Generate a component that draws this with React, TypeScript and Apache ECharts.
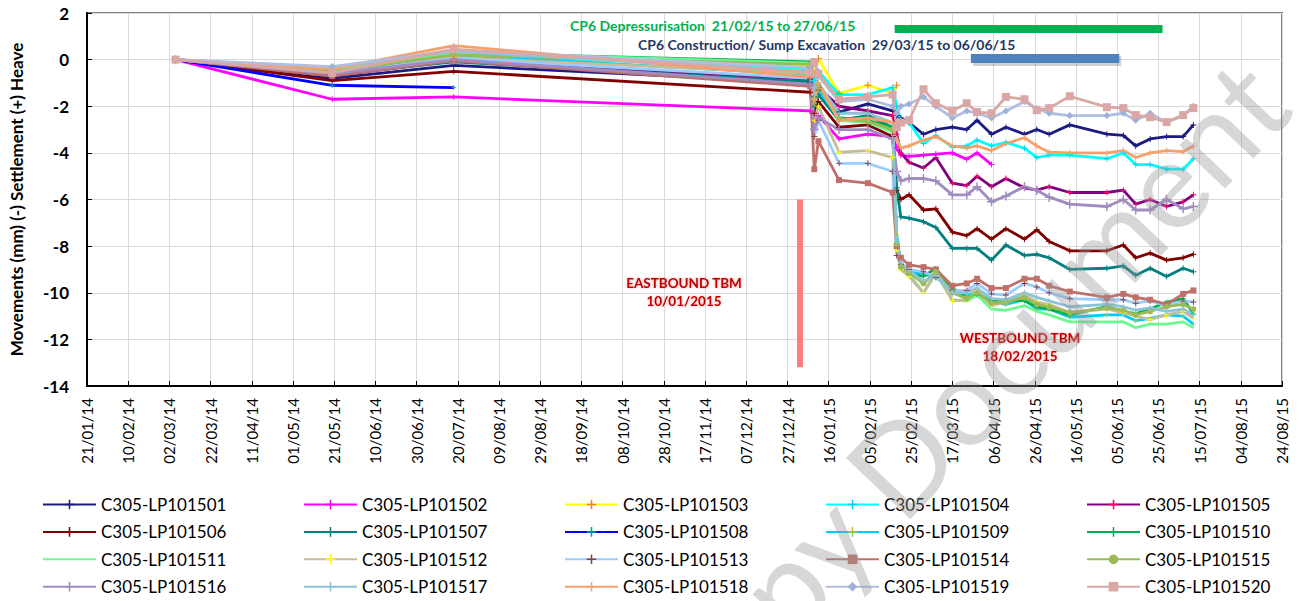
import React, { useEffect, useRef } from "react";
import * as echarts from "echarts";

// ---------- DATA ----------
const DATES = [
  "2014-03-05", "2014-05-20", "2014-07-18", "2015-01-07", "2015-01-09", "2015-01-11",
  "2015-01-21", "2015-02-04", "2015-02-16", "2015-02-18", "2015-02-20", "2015-02-24",
  "2015-03-03", "2015-03-09", "2015-03-17", "2015-03-24", "2015-03-29", "2015-04-05",
  "2015-04-12", "2015-04-21", "2015-04-27", "2015-05-03", "2015-05-13", "2015-05-31",
  "2015-06-08", "2015-06-14", "2015-06-21", "2015-06-29", "2015-07-07", "2015-07-12",
];

const LP101501 = [0, -0.8, -0.25, -1.0, -1.6, -1.3, -2.25, -1.9, -2.2, -2.4, -2.5, -2.7, -3.2, -3.0, -2.9, -3.0, -2.6, -3.2, -2.9, -3.2, -3.0, -3.2, -2.8, -3.2, -3.25, -3.7, -3.4, -3.3, -3.3, -2.8];
const LP101502 = [0, -1.7, -1.6, -2.2, -2.6, -2.4, -3.4, -3.2, -3.3, -3.8, -4.1, -4.15, -4.1, -4.05, -4.0, -4.27, -4.0, -4.5, null, null, null, null, null, null, null, null, null, null, null, null];
const LP101503 = [0, -0.7, 0.15, -0.3, -0.6, 0.05, -1.45, -1.1, -1.45, -1.1, null, null, null, null, null, null, null, null, null, null, null, null, null, null, null, null, null, null, null, null];
const LP101504 = [0, -0.5, 0.25, -0.4, -0.9, -0.5, -1.5, -1.5, -1.2, -2.0, -2.6, -2.7, -3.6, -3.25, -3.75, -3.7, -3.45, -3.7, -3.55, -3.8, -4.2, -4.1, -4.1, -4.25, -4.0, -4.5, -4.5, -4.7, -4.7, -4.25];
const LP101505 = [0, -0.7, -0.05, -0.85, -1.8, -1.2, -2.0, -2.2, -2.4, -3.2, -4.0, -4.4, -4.65, -4.2, -5.3, -5.4, -5.0, -5.45, -5.1, -5.5, -5.6, -5.45, -5.7, -5.7, -5.6, -6.2, -6.0, -6.3, -6.1, -5.8];
const LP101506 = [0, -0.9, -0.5, -1.4, -2.3, -1.8, -2.9, -2.8, -3.3, -5.6, -6.0, -5.8, -6.45, -6.4, -7.4, -7.55, -7.25, -7.7, -7.25, -7.7, -7.3, -7.8, -8.2, -8.2, -7.95, -8.5, -8.3, -8.6, -8.5, -8.35];
const LP101507 = [0, -0.65, -0.1, -0.95, -2.0, -1.5, -2.6, -2.4, -2.9, -5.5, -6.75, -6.8, -6.95, -7.2, -8.1, -8.1, -8.1, -8.6, -7.95, -8.4, -8.35, -8.5, -9.0, -8.95, -8.85, -9.25, -8.95, -9.3, -8.95, -9.1];
const LP101508 = [0, -1.1, -1.2, null, null, null, null, null, null, null, null, null, null, null, null, null, null, null, null, null, null, null, null, null, null, null, null, null, null, null];
const LP101509 = [0, -0.55, 0.2, -0.65, -1.9, -1.3, -2.5, -2.6, -3.0, -7.5, -8.8, -9.1, -9.2, -9.35, -9.8, -10.15, -9.95, -10.4, -10.5, -10.3, -10.7, -10.7, -11.05, -10.95, -10.95, -11.2, -11.1, -10.95, -11.0, -11.35];
const LP101510 = [0, -0.45, 0.3, -0.1, -1.6, -1.0, -2.5, -2.6, -2.9, -7.8, -8.9, -9.2, -9.3, -8.95, -9.85, -10.2, -10.1, -10.35, -10.3, -10.35, -10.6, -10.7, -10.95, -10.6, -10.8, -10.9, -10.7, -10.4, -10.25, -10.9];
const LP101511 = [0, -0.45, 0.3, -0.15, -1.7, -1.1, -2.6, -2.7, -3.1, -8.0, -9.0, -9.2, -10.0, -9.2, -10.3, -10.35, -10.1, -10.7, -10.75, -10.55, -10.8, -10.95, -11.25, -11.25, -11.25, -11.5, -11.35, -11.35, -11.25, -11.5];
const LP101512 = [0, -0.65, 0.1, -0.6, -2.6, -2.0, -3.97, -3.9, -4.2, -8.2, -9.0, -9.3, -10.0, -9.1, -10.35, -10.3, -9.9, -10.55, -10.4, -10.1, -10.4, -10.5, -10.85, -10.7, -10.85, -11.0, -11.15, -10.95, -10.8, -11.1];
const LP101513 = [0, -0.6, 0.05, -0.8, -3.3, -2.6, -4.45, -4.45, -4.8, -8.4, -8.8, -9.0, -9.1, -9.35, -9.9, -9.9, -9.6, -10.05, -10.1, -9.6, -9.75, -10.0, -10.25, -10.3, -10.3, -10.45, -10.35, -10.55, -10.35, -10.4];
const LP101514 = [0, -0.7, -0.05, -1.15, -4.7, -3.5, -5.17, -5.3, -5.7, -8.0, -8.5, -8.8, -8.9, -9.0, -9.7, -9.6, -9.4, -9.8, -9.8, -9.4, -9.4, -9.7, -9.95, -10.2, -10.05, -10.2, -10.3, -10.5, -10.05, -9.9];
const LP101515 = [0, -0.5, 0.2, -0.2, -1.7, -1.1, -2.55, -2.65, -3.0, -7.9, -8.9, -9.15, -9.6, -9.1, -10.0, -10.25, -10.0, -10.45, -10.4, -10.2, -10.5, -10.6, -10.85, -10.65, -10.75, -10.95, -10.8, -10.6, -10.5, -10.7];
const LP101516 = [0, -0.6, 0.0, -1.05, -3.0, -2.5, -3.0, -3.0, -3.4, -4.8, -5.2, -5.1, -5.1, -5.2, -5.8, -5.8, -5.45, -6.1, -5.85, -5.45, -5.6, -5.9, -6.2, -6.3, -6.0, -6.45, -6.45, -6.0, -6.4, -6.3];
const LP101517 = [0, -0.35, 0.35, -0.5, -1.5, -1.0, -2.3, -2.3, -2.7, -7.8, -8.7, -9.05, -9.5, -9.25, -10.0, -10.0, -9.8, -10.25, -10.3, -10.0, -10.2, -10.35, -10.6, -10.5, -10.6, -10.75, -10.65, -10.8, -10.7, -10.95];
const LP101518 = [0, -0.4, 0.6, -0.75, -1.7, -1.0, -2.6, -2.5, -2.7, -3.4, -3.8, -3.7, -3.45, -3.3, -3.7, -3.8, -3.7, -3.9, -3.6, -3.35, -3.7, -3.97, -4.0, -4.0, -3.9, -4.2, -4.0, -3.9, -3.95, -3.7];
const LP101519 = [0, -0.3, 0.4, -0.35, -1.2, -0.7, -1.8, -1.7, -2.0, -2.3, -2.0, -1.9, -1.6, -2.0, -2.5, -2.2, -2.3, -2.5, -2.2, -1.8, -2.1, -2.3, -2.4, -2.4, -2.3, -2.6, -2.3, -2.7, -2.4, -2.0];
const LP101520 = [0, -0.57, 0.45, -0.55, -0.1, -0.6, -1.7, -1.6, -1.5, -2.9, -2.7, -2.6, -1.27, -1.87, -2.2, -1.87, -2.25, -2.3, -1.6, -1.7, -2.17, -2.08, -1.57, -2.04, -2.08, -2.38, -2.47, -2.68, -2.38, -2.08];

const SERIES_NAMES = [
  "C305-LP101501", "C305-LP101502", "C305-LP101503", "C305-LP101504", "C305-LP101505",
  "C305-LP101506", "C305-LP101507", "C305-LP101508", "C305-LP101509", "C305-LP101510",
  "C305-LP101511", "C305-LP101512", "C305-LP101513", "C305-LP101514", "C305-LP101515",
  "C305-LP101516", "C305-LP101517", "C305-LP101518", "C305-LP101519", "C305-LP101520",
];
const SERIES_VALUES = [
  LP101501, LP101502, LP101503, LP101504, LP101505, LP101506, LP101507, LP101508, LP101509, LP101510,
  LP101511, LP101512, LP101513, LP101514, LP101515, LP101516, LP101517, LP101518, LP101519, LP101520,
];

// axis
const X_START = "2014-01-21";
const X_END = "2015-08-24";
const X_STEP_DAYS = 20;
const Y_MIN = -14;
const Y_MAX = 2;
const Y_STEP = 2;

// annotations (dates / values)
const DEPRESS_RANGE = ["2015-02-17", "2015-06-27"];
const DEPRESS_LEVEL = 1.34;
const SUMP_RANGE = ["2015-03-26", "2015-06-06"];
const SUMP_LEVEL = 0.05;
const EAST_TBM = { date: "2015-01-02", from: -6.0, to: -13.2 };
const WEST_TBM = { date: "2015-02-16", from: -8.85, to: -14.1 };

// ---------- STYLE ----------
const PLUS = "path://M0,4.2h10v1.6h-10z M4.2,0h1.6v10h-1.6z";
const STYLES: { line: string; marker: string; symbol: string; size: number }[] = [
  { line: "#1c1c80", marker: "#1c1c80", symbol: PLUS, size: 6 },
  { line: "#ff00ff", marker: "#ff00ff", symbol: PLUS, size: 6 },
  { line: "#ffff00", marker: "#f08020", symbol: PLUS, size: 7 },
  { line: "#00ffff", marker: "#00d8e8", symbol: PLUS, size: 6 },
  { line: "#800080", marker: "#ff0066", symbol: PLUS, size: 6 },
  { line: "#800000", marker: "#800000", symbol: PLUS, size: 6 },
  { line: "#008080", marker: "#008080", symbol: PLUS, size: 6 },
  { line: "#0000ff", marker: "#00a0a0", symbol: PLUS, size: 5 },
  { line: "#00ccff", marker: "#b0c040", symbol: PLUS, size: 5 },
  { line: "#00b050", marker: "#00b050", symbol: PLUS, size: 5 },
  { line: "#6cfa90", marker: "rgba(0,0,0,0)", symbol: "circle", size: 0 },
  { line: "#c4bd97", marker: "#ffff00", symbol: PLUS, size: 6 },
  { line: "#99ccff", marker: "#8b4040", symbol: PLUS, size: 6 },
  { line: "#c0706b", marker: "#c0706b", symbol: "rect", size: 6 },
  { line: "#9bbb59", marker: "#9bbb59", symbol: "circle", size: 6 },
  { line: "#a08cc0", marker: "#a08cc0", symbol: PLUS, size: 9 },
  { line: "#8cc3d9", marker: "#8cc3d9", symbol: PLUS, size: 6 },
  { line: "#f7a06c", marker: "#f7a06c", symbol: PLUS, size: 6 },
  { line: "#b0bedf", marker: "#a0b0d8", symbol: "diamond", size: 7 },
  { line: "#d9a8a6", marker: "#d9a8a6", symbol: "rect", size: 8 },
];

const FONT = "Lato, 'Open Sans', sans-serif";
const DAY = 86400000;

function ts(s: string) {
  const [y, m, d] = s.split("-").map(Number);
  return Date.UTC(y, m - 1, d);
}
const T0 = ts(X_START);
function dayOf(s: string) {
  return Math.round((ts(s) - T0) / DAY);
}
function fmt(v: number) {
  const d = new Date(T0 + v * DAY);
  const p = (n: number) => (n < 10 ? "0" + n : "" + n);
  return p(d.getUTCDate()) + "/" + p(d.getUTCMonth() + 1) + "/" + p(d.getUTCFullYear() % 100);
}

export default function App() {
  const ref = useRef<HTMLDivElement>(null);

  useEffect(() => {
    if (!ref.current) return;
    const chart = echarts.init(ref.current, undefined, { renderer: "svg" });

    const series: any[] = SERIES_NAMES.map((name, i) => {
      const st = STYLES[i];
      const vals = SERIES_VALUES[i];
      const data: [number, number][] = [];
      DATES.forEach((d, k) => {
        const v = vals[k];
        if (v !== null && v !== undefined) data.push([dayOf(d), v]);
      });
      return {
        name,
        type: "line",
        data,
        symbol: st.symbol,
        symbolSize: st.size,
        showSymbol: st.size > 0,
        lineStyle: { color: st.line, width: 2.8 },
        itemStyle: { color: st.marker },
        emphasis: { disabled: true },
        z: 3,
      };
    });

    const sumpShadowLevel = SUMP_LEVEL - 0.08;
    series.push({
      name: "annotations",
      type: "line",
      data: [],
      silent: true,
      z: 2,
      markLine: {
        silent: true,
        symbol: ["none", "none"],
        label: { show: false },
        emphasis: { disabled: true },
        data: [
          [
            { coord: [dayOf(DEPRESS_RANGE[0]), DEPRESS_LEVEL], lineStyle: { color: "#00b050", width: 8, type: "solid" } },
            { coord: [dayOf(DEPRESS_RANGE[1]), DEPRESS_LEVEL] },
          ],
          [
            { coord: [dayOf(SUMP_RANGE[0]) + 1, sumpShadowLevel], lineStyle: { color: "rgba(0,0,0,0.18)", width: 10, type: "solid" } },
            { coord: [dayOf(SUMP_RANGE[1]) + 1, sumpShadowLevel] },
          ],
          [
            { coord: [dayOf(SUMP_RANGE[0]), SUMP_LEVEL], lineStyle: { color: "#4f81bd", width: 9, type: "solid" } },
            { coord: [dayOf(SUMP_RANGE[1]), SUMP_LEVEL] },
          ],
          [
            { coord: [dayOf(EAST_TBM.date), EAST_TBM.from], lineStyle: { color: "#ff7f7f", width: 6, type: "solid" } },
            { coord: [dayOf(EAST_TBM.date), EAST_TBM.to] },
          ],
          [
            { coord: [dayOf(WEST_TBM.date), WEST_TBM.from], lineStyle: { color: "#ff7f7f", width: 6, type: "solid" } },
            { coord: [dayOf(WEST_TBM.date), WEST_TBM.to] },
          ],
        ],
      },
    });

    const legendCols = [0, 1, 2, 3, 4].map((c) => ({
      orient: "vertical",
      left: 42 + 261 * c,
      top: 496,
      height: 105,
      itemWidth: 53,
      itemHeight: 12,
      itemGap: 10.4,
      padding: 0,
      selectedMode: false,
      textStyle: { fontSize: 17, lineHeight: 17, color: "#000", fontFamily: FONT },
      data: [0, 1, 2, 3].map((r) => SERIES_NAMES[r * 5 + c]),
    }));

    const xMax = dayOf(X_END);

    chart.setOption({
      animation: false,
      backgroundColor: "#fff",
      grid: {
        left: 83,
        top: 13,
        width: 1199,
        height: 373,
        show: true,
        borderColor: "#808080",
        borderWidth: 2,
        containLabel: false,
      },
      legend: legendCols,
      xAxis: {
        type: "value",
        min: 0,
        max: xMax,
        interval: X_STEP_DAYS,
        axisLine: { show: true, onZero: false, lineStyle: { color: "#000", width: 2 } },
        axisTick: { show: true, inside: true, length: 5, lineStyle: { color: "#000" } },
        axisLabel: {
          rotate: 90,
          margin: 12,
          color: "#000",
          fontSize: 15,
          fontFamily: FONT,
          formatter: (v: number) => fmt(v),
        },
        splitLine: { show: true, lineStyle: { color: "#d9d9d9", width: 1 } },
      },
      yAxis: {
        type: "value",
        min: Y_MIN,
        max: Y_MAX,
        interval: Y_STEP,
        name: "Movements (mm) (-) Settlement (+) Heave",
        nameLocation: "middle",
        nameRotate: 90,
        nameGap: 62,
        nameTextStyle: { fontSize: 17, fontWeight: "bold", color: "#000", fontFamily: FONT },
        axisLine: { show: true, onZero: false, lineStyle: { color: "#000", width: 2 } },
        axisTick: { show: true, inside: true, length: 5, lineStyle: { color: "#000" } },
        axisLabel: { margin: 18, color: "#000", fontSize: 17, fontWeight: "bold", fontFamily: FONT },
        splitLine: { show: true, lineStyle: { color: "#d9d9d9", width: 1 } },
      },
      graphic: [
        {
          type: "text",
          x: 570,
          y: 25,
          style: {
            text: "CP6 Depressurisation  21/02/15 to 27/06/15",
            fill: "#00b050",
            font: `bold 14px ${FONT}`,
            textVerticalAlign: "middle",
          },
          z: 10,
        },
        {
          type: "text",
          x: 638,
          y: 44,
          style: {
            text: "CP6 Construction/ Sump Excavation  29/03/15 to 06/06/15",
            fill: "#1f3864",
            font: `bold 14px ${FONT}`,
            textVerticalAlign: "middle",
          },
          z: 10,
        },
        {
          type: "text",
          x: 684,
          y: 292,
          style: {
            text: "EASTBOUND TBM\n10/01/2015",
            fill: "#c00000",
            font: `bold 13.5px ${FONT}`,
            lineHeight: 18,
            textAlign: "center",
            textVerticalAlign: "middle",
            textShadowColor: "rgba(255,0,0,0.35)",
            textShadowBlur: 3,
          },
          z: 10,
        },
        {
          type: "text",
          x: 1020,
          y: 347,
          style: {
            text: "WESTBOUND TBM\n18/02/2015",
            fill: "#c00000",
            font: `bold 13.5px ${FONT}`,
            lineHeight: 18,
            textAlign: "center",
            textVerticalAlign: "middle",
            textShadowColor: "rgba(255,0,0,0.35)",
            textShadowBlur: 3,
          },
          z: 10,
        },
        {
          type: "text",
          x: 1262,
          y: 80,
          rotation: 0.81,
          silent: true,
          style: {
            text: "Copy Document",
            fill: "rgba(150,150,150,0.38)",
            font: `124px ${FONT}`,
            textAlign: "right",
            textVerticalAlign: "middle",
          },
          z: 20,
        },
      ],
      series,
    });

    return () => chart.dispose();
  }, []);

  return (
    <div
      ref={ref}
      style={{ position: "fixed", left: 0, top: 0, width: 1299, height: 601, background: "#fff" }}
    />
  );
}
